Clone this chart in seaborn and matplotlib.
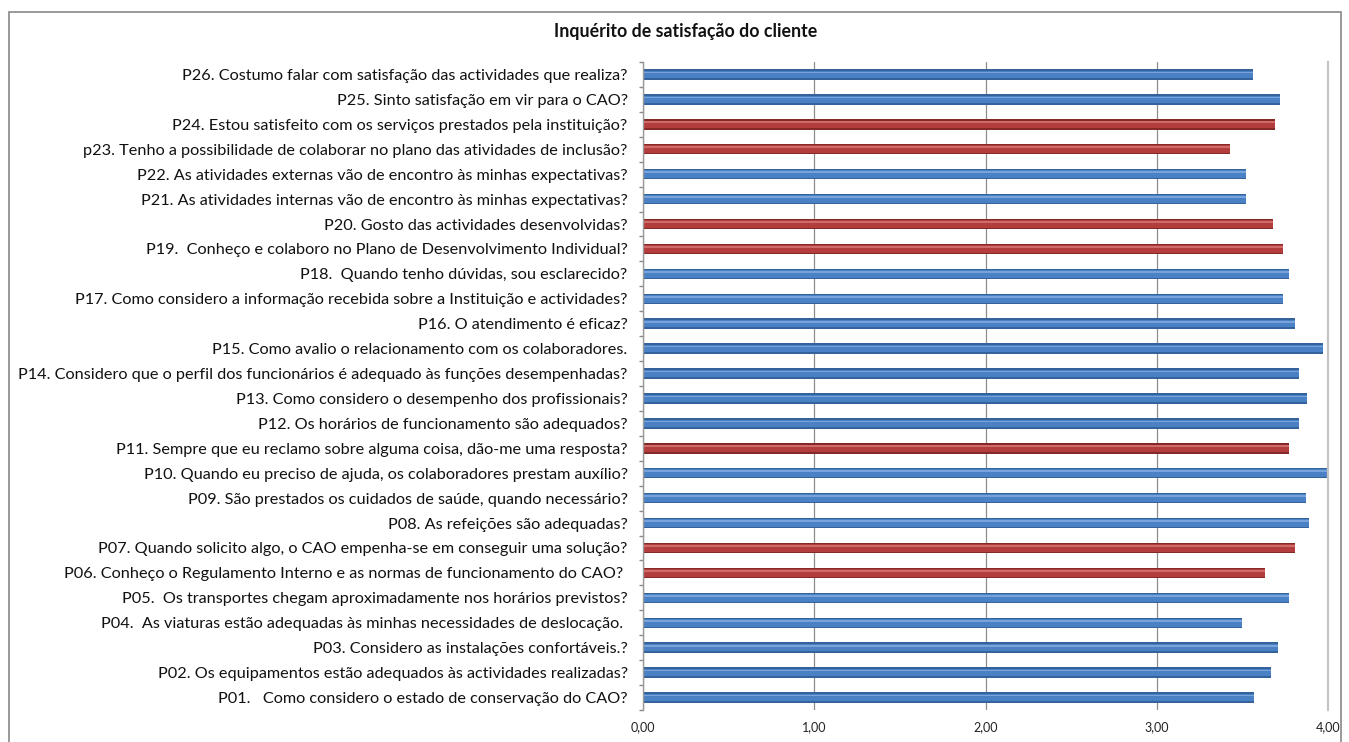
import matplotlib
matplotlib.use("Agg")
import matplotlib.pyplot as plt
import seaborn as sns
import pandas as pd
import numpy as np
from matplotlib.patches import Rectangle

questions = [
    "P26. Costumo falar com satisfação das actividades que realiza?",
    "P25. Sinto satisfação em vir para o CAO?",
    "P24. Estou satisfeito com os serviços prestados pela instituição?",
    "p23. Tenho a possibilidade de colaborar no plano das atividades de inclusão?",
    "P22. As atividades externas vão de encontro às minhas expectativas?",
    "P21. As atividades internas vão de encontro às minhas expectativas?",
    "P20. Gosto das actividades desenvolvidas?",
    "P19.  Conheço e colaboro no Plano de Desenvolvimento Individual?",
    "P18.  Quando tenho dúvidas, sou esclarecido?",
    "P17. Como considero a informação recebida sobre a Instituição e actividades?",
    "P16. O atendimento é eficaz?",
    "P15. Como avalio o relacionamento com os colaboradores.",
    "P14. Considero que o perfil dos funcionários é adequado às funções desempenhadas?",
    "P13. Como considero o desempenho dos profissionais?",
    "P12. Os horários de funcionamento são adequados?",
    "P11. Sempre que eu reclamo sobre alguma coisa, dão-me uma resposta?",
    "P10. Quando eu preciso de ajuda, os colaboradores prestam auxílio?",
    "P09. São prestados os cuidados de saúde, quando necessário?",
    "P08. As refeições são adequadas?",
    "P07. Quando solicito algo, o CAO empenha-se em conseguir uma solução?",
    "P06. Conheço o Regulamento Interno e as normas de funcionamento do CAO? ",
    "P05.  Os transportes chegam aproximadamente nos horários previstos?",
    "P04.  As viaturas estão adequadas às minhas necessidades de deslocação. ",
    "P03. Considero as instalações confortáveis.?",
    "P02. Os equipamentos estão adequados às actividades realizadas?",
    "P01.   Como considero o estado de conservação do CAO?",
]
scores = [3.56, 3.72, 3.69, 3.43, 3.52, 3.52, 3.68, 3.74, 3.77, 3.74, 3.81, 3.97, 3.83,
          3.88, 3.83, 3.77, 4.00, 3.87, 3.89, 3.81, 3.63, 3.77, 3.50, 3.71, 3.67, 3.57]
groups = ["a", "a", "b", "b", "a", "a", "b", "b", "a", "a", "a", "a", "a",
          "a", "a", "b", "a", "a", "a", "b", "b", "a", "a", "a", "a", "a"]
title = "Inquérito de satisfação do cliente"
xticks = [0, 1, 2, 3, 4]
xticklabels = ["0,00", "1,00", "2,00", "3,00", "4,00"]

df = pd.DataFrame({"q": questions, "v": scores, "g": groups})

sns.set_theme(style="white")
plt.rcParams['font.family'] = ['Lato', 'DejaVu Sans']

fig = plt.figure(figsize=(13.49, 7.42), dpi=100)
ax = fig.add_axes([643 / 1349, 1 - 710 / 742, (1328 - 643) / 1349, (710 - 62) / 742])

dark = {"a": "#34639c", "b": "#852828"}
mid = {"a": "#4a80c4", "b": "#b33c3c"}
light = {"a": "#78a3db", "b": "#cf6b69"}

sns.barplot(data=df, y="q", x="v", hue="g", palette=dark, orient="h", width=0.42,
            dodge=False, legend=False, ax=ax, saturation=1, linewidth=0)
sns.barplot(data=df, y="q", x="v", hue="g", palette=mid, orient="h", width=0.30,
            dodge=False, legend=False, ax=ax, saturation=1, linewidth=0)
n_before = len(ax.patches)
sns.barplot(data=df, y="q", x="v", hue="g", palette=light, orient="h", width=0.07,
            dodge=False, legend=False, ax=ax, saturation=1, linewidth=0)
for p in ax.patches[n_before:]:
    if p.get_width() > 0:
        p.set_y(p.get_y() - 0.08)

ax.set_xlim(0, 4)
ax.set_ylim(len(questions) - 0.5, -0.5)
ax.set_xticks(xticks)
ax.set_xticklabels(xticklabels, fontsize=9, color="#222222")
ax.set_xlabel("")
ax.set_ylabel("")
ax.tick_params(axis="y", labelsize=11.7, length=0, pad=11, labelcolor="#111111")
ax.tick_params(axis="x", length=0, pad=8)
ax.set_yticks(np.arange(len(questions) + 1) - 0.5, minor=True)
ax.tick_params(axis="y", which="minor", length=3, color="#888888", left=True)

ax.set_axisbelow(True)
ax.xaxis.grid(True, color="#8c8c8c", linewidth=0.9)
ax.yaxis.grid(False)
for s in ["top", "bottom"]:
    ax.spines[s].set_visible(False)
ax.spines["left"].set_color("#9a9a9a")
ax.spines["left"].set_linewidth(1.0)
ax.spines["right"].set_color("#c4c4c4")
ax.spines["right"].set_linewidth(1.6)

fig.text(686 / 1349, 1 - 32 / 742, title, ha="center", va="center",
         fontsize=12.8, fontweight="bold", color="#111111")

fig.patches.append(Rectangle((9 / 1349, -0.05), (1341 - 9) / 1349, 1.05 - 12 / 742,
                             transform=fig.transFigure, fill=False,
                             edgecolor="#888888", linewidth=1.2))

fig.savefig("out.png", dpi=100)
